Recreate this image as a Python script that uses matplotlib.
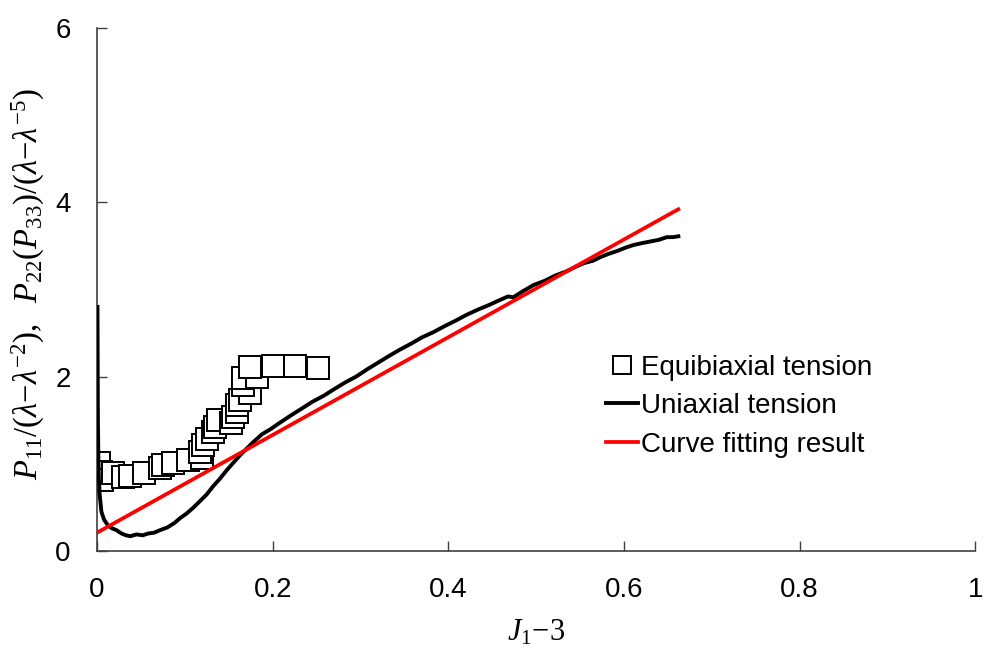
import matplotlib
matplotlib.use("Agg")
import matplotlib.pyplot as plt

# equibiaxial tension data (squares)
equi_x = [0.002, 0.004, 0.006, 0.018, 0.030, 0.037, 0.053, 0.072, 0.075, 0.087,
          0.104, 0.120, 0.117, 0.121, 0.125, 0.132, 0.134, 0.138, 0.153, 0.155,
          0.159, 0.159, 0.163, 0.174, 0.166, 0.166, 0.182, 0.174, 0.200, 0.225,
          0.252]
equi_y = [1.01, 0.91, 0.81, 0.89, 0.85, 0.86, 0.90, 0.95, 0.99, 1.01,
          1.04, 1.07, 1.14, 1.22, 1.29, 1.37, 1.42, 1.50, 1.47, 1.54,
          1.60, 1.67, 1.73, 1.81, 1.90, 1.98, 2.00, 2.11, 2.12, 2.12,
          2.10]

# uniaxial tension data (black curve)
uni_x = [0.0005, 0.0008, 0.001, 0.0015, 0.002, 0.003, 0.005, 0.008, 0.012, 0.017,
         0.022, 0.028, 0.033, 0.038, 0.045, 0.052, 0.058, 0.065, 0.072, 0.080,
         0.088, 0.095, 0.102, 0.110, 0.117, 0.125, 0.132, 0.140, 0.148, 0.155,
         0.163, 0.170, 0.178, 0.188, 0.198, 0.208, 0.220, 0.231, 0.245, 0.258,
         0.269, 0.282, 0.295, 0.307, 0.320, 0.333, 0.345, 0.358, 0.370, 0.383,
         0.396, 0.408, 0.421, 0.434, 0.446, 0.459, 0.468, 0.474, 0.485, 0.497,
         0.510, 0.522, 0.535, 0.545, 0.554, 0.565, 0.573, 0.583, 0.592, 0.602,
         0.611, 0.620, 0.630, 0.640, 0.649, 0.656, 0.662]
uni_y = [2.80, 2.00, 1.50, 1.10, 0.85, 0.65, 0.45, 0.36, 0.30, 0.26,
         0.24, 0.20, 0.18, 0.17, 0.19, 0.18, 0.20, 0.21, 0.24, 0.27,
         0.32, 0.38, 0.43, 0.50, 0.57, 0.65, 0.74, 0.83, 0.93, 1.01,
         1.10, 1.17, 1.25, 1.34, 1.40, 1.47, 1.55, 1.62, 1.71, 1.78,
         1.85, 1.93, 2.00, 2.08, 2.16, 2.24, 2.31, 2.38, 2.45, 2.51,
         2.58, 2.64, 2.71, 2.77, 2.82, 2.88, 2.92, 2.91, 2.98, 3.05,
         3.10, 3.16, 3.21, 3.26, 3.30, 3.33, 3.37, 3.41, 3.44, 3.48,
         3.51, 3.53, 3.55, 3.57, 3.60, 3.60, 3.61]

# curve fitting result (red line)
fit_x = [0.0, 0.662]
fit_y = [0.21, 3.92]

x_ticks = [0, 0.2, 0.4, 0.6, 0.8, 1]
x_labels = ["0", "0.2", "0.4", "0.6", "0.8", "1"]
y_ticks = [0, 2, 4, 6]

plt.rcParams["font.family"] = ["Liberation Sans", "DejaVu Sans"]
plt.rcParams["mathtext.fontset"] = "custom"
plt.rcParams["mathtext.rm"] = "Liberation Serif"
plt.rcParams["mathtext.it"] = "Liberation Serif:italic"
plt.rcParams["mathtext.bf"] = "Liberation Serif:bold"

fig = plt.figure(figsize=(9.85, 6.49), dpi=100)
ax = fig.add_axes([0.0985, 0.151, 0.8915, 0.806])

ax.plot(equi_x, equi_y, ls="none", marker="s", ms=15.5, mfc="white",
        mec="black", mew=1.4, label="Equibiaxial tension", zorder=2)
ax.plot(uni_x, uni_y, color="black", lw=2.8, label="Uniaxial tension", zorder=3)
ax.plot(fit_x, fit_y, color="#ff0000", lw=2.7, label="Curve fitting result",
        zorder=4)

ax.set_xlim(0, 1)
ax.set_ylim(0, 6)
ax.set_xticks(x_ticks)
ax.set_xticklabels(x_labels)
ax.set_yticks(y_ticks)
ax.tick_params(direction="in", length=7, width=1, colors="#404040",
               labelcolor="black", labelsize=20, pad=19)

for side in ["top", "right"]:
    ax.spines[side].set_visible(False)
for side in ["left", "bottom"]:
    ax.spines[side].set_color("#404040")
    ax.spines[side].set_linewidth(1.2)

ax.set_xlabel(r"$J_1{-}3$", fontsize=22, labelpad=10)
ax.set_ylabel(r"$P_{11}/(\lambda{-}\lambda^{-2}),\ \ "
              r"P_{22}(P_{33})/(\lambda{-}\lambda^{-5})$",
              fontsize=23.5)
ax.yaxis.set_label_coords(-0.057, 0.511)

ax.legend(loc="center left", bbox_to_anchor=(0.58, 0.277), frameon=False,
          fontsize=20, handlelength=1.15, handletextpad=0.1, labelspacing=0.45,
          borderpad=0, borderaxespad=0, markerscale=0.85)

fig.savefig("out.png", dpi=100)
